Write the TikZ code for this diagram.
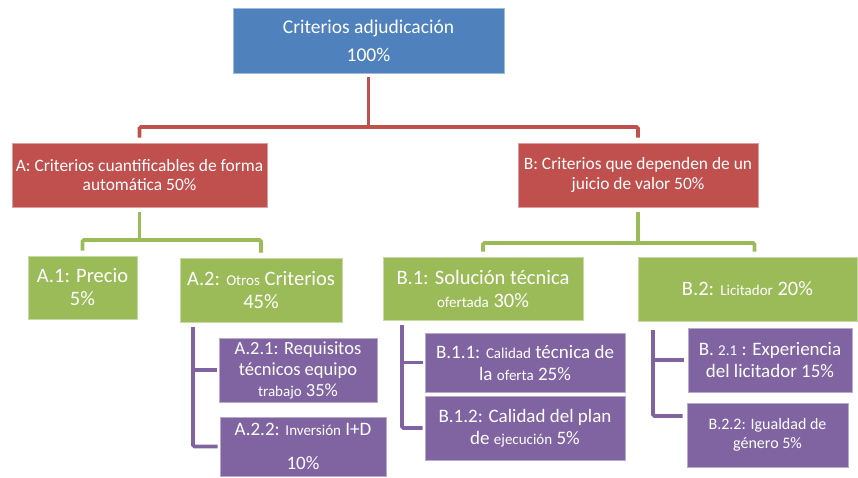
\documentclass[tikz,border=0pt]{standalone}
\usepackage{fontspec}
\setmainfont{Carlito}
\usepackage{tikz}
\usetikzlibrary{positioning,calc}
\definecolor{critblue}{RGB}{79,129,189}
\definecolor{critred}{RGB}{192,80,77}
\definecolor{critgreen}{RGB}{155,187,89}
\definecolor{critpurple}{RGB}{128,100,162}
\newcommand{\chico}[1]{{\fontsize{15}{17}\selectfont #1}}
\tikzset{
    caja/.style={rectangle, fill=#1, draw=#1!55!white, line width=0.8pt, text=white, align=center, inner sep=0pt},
    raiz/.style={caja=critblue, minimum width=271pt, minimum height=65pt, font=\fontsize{19.5}{28}\selectfont},
    grupo/.style={caja=critred, minimum height=64pt, font=\fontsize{17.4}{19.5}\selectfont},
    criterio/.style={caja=critgreen, minimum height=63pt, font=\fontsize{20.5}{23}\selectfont},
    subcriterio/.style={caja=critpurple, font=\fontsize{19}{22}\selectfont},
    rama/.style={draw=#1, line width=3.6pt, rounded corners=1.5pt}
}
\begin{document}
\begin{tikzpicture}[x=1pt, y=-1pt]
    \useasboundingbox (0,0) rectangle (858,477);

    % Raiz
    \node [raiz] (total) at (368.5,40.5) {Criterios adjudicación\\100\%};

    % Grupos A y B
    \node [grupo, minimum width=255pt] (grupoA) at (139.5,175) {A: Criterios cuantificables de forma\\automática 50\%};
    \node [grupo, minimum width=240pt] (grupoB) at (638,175) {B: Criterios que dependen de un\\juicio de valor 50\%};

    % Criterios
    \node [criterio, minimum width=109pt] (precio) at (82.5,287.5) {A.1: Precio\\5\%};
    \node [criterio, minimum width=162pt, minimum height=64pt] (otros) at (261,290) {A.2: \chico{Otros} Criterios\\45\%};
    \node [criterio, minimum width=200pt] (solucion) at (483,288.5) {B.1: Solución técnica\\\chico{ofertada} 30\%};
    \node [criterio, minimum width=219pt, minimum height=64pt] (licitador) at (747.5,289) {B.2: \chico{Licitador} 20\%};

    % Subcriterios
    \node [subcriterio, minimum width=158pt, minimum height=64pt, font=\fontsize{18.5}{21}\selectfont] (requisitos) at (298,370) {A.2.1: Requisitos\\técnicos equipo\\\chico{trabajo} 35\%};
    \node [subcriterio, minimum width=166pt, minimum height=59pt] (inversion) at (303,446.5) {A.2.2: \chico{Inversión} I+D\\[12pt]10\%};
    \node [subcriterio, minimum width=200pt, minimum height=59pt] (calidad) at (525,362.5) {B.1.1: \chico{Calidad} técnica de\\la \chico{oferta} 25\%};
    \node [subcriterio, minimum width=200pt, minimum height=64pt] (plan) at (525,428) {B.1.2: Calidad del plan\\de \chico{ejecución} 5\%};
    \node [subcriterio, minimum width=164pt, minimum height=64pt] (experiencia) at (770,360) {B. \chico{2.1} : Experiencia\\del licitador 15\%};
    \node [subcriterio, minimum width=161pt, minimum height=64pt, font=\fontsize{16}{19}\selectfont] (igualdad) at (767.5,435) {B.2.2: Igualdad de\\género 5\%};

    % Conectores rojos
    \coordinate (jrojo) at (368.5,127);
    \draw [rama=critred, shorten <=4pt] (total.south) -- (jrojo);
    \draw [rama=critred, shorten <=5pt, shorten >=5pt] (grupoA.north) |- (jrojo) -| (grupoB.north);

    % Conectores verdes
    \coordinate (jverdeA) at (139.5,240);
    \coordinate (jverdeB) at (638,243);
    \draw [rama=critgreen, shorten <=5pt] (grupoA.south) -- (jverdeA);
    \draw [rama=critgreen, shorten <=5pt, shorten >=5pt] (precio.north) |- (jverdeA) -| (otros.north);
    \draw [rama=critgreen, shorten <=5pt] (grupoB.south) -- (jverdeB);
    \draw [rama=critgreen, shorten <=5pt, shorten >=5pt] (solucion.north) |- (jverdeB) -| ([xshift=7pt]licitador.north);

    % Conectores morados
    \coordinate (pA) at (193,327);
    \coordinate (pB) at (402,325);
    \coordinate (pC) at (653,330);
    \draw [rama=critpurple, shorten >=2pt] (pA) |- (inversion.west);
    \draw [rama=critpurple, shorten >=2pt] (requisitos.west -| pA) -- (requisitos.west);
    \draw [rama=critpurple, shorten >=2pt] (pB) |- (plan.west);
    \draw [rama=critpurple, shorten >=2pt] (calidad.west -| pB) -- (calidad.west);
    \draw [rama=critpurple, shorten >=4pt] (pC) |- ([yshift=19pt]igualdad.west);
    \draw [rama=critpurple, shorten >=4pt] (experiencia.west -| pC) -- (experiencia.west);
\end{tikzpicture}
\end{document}
